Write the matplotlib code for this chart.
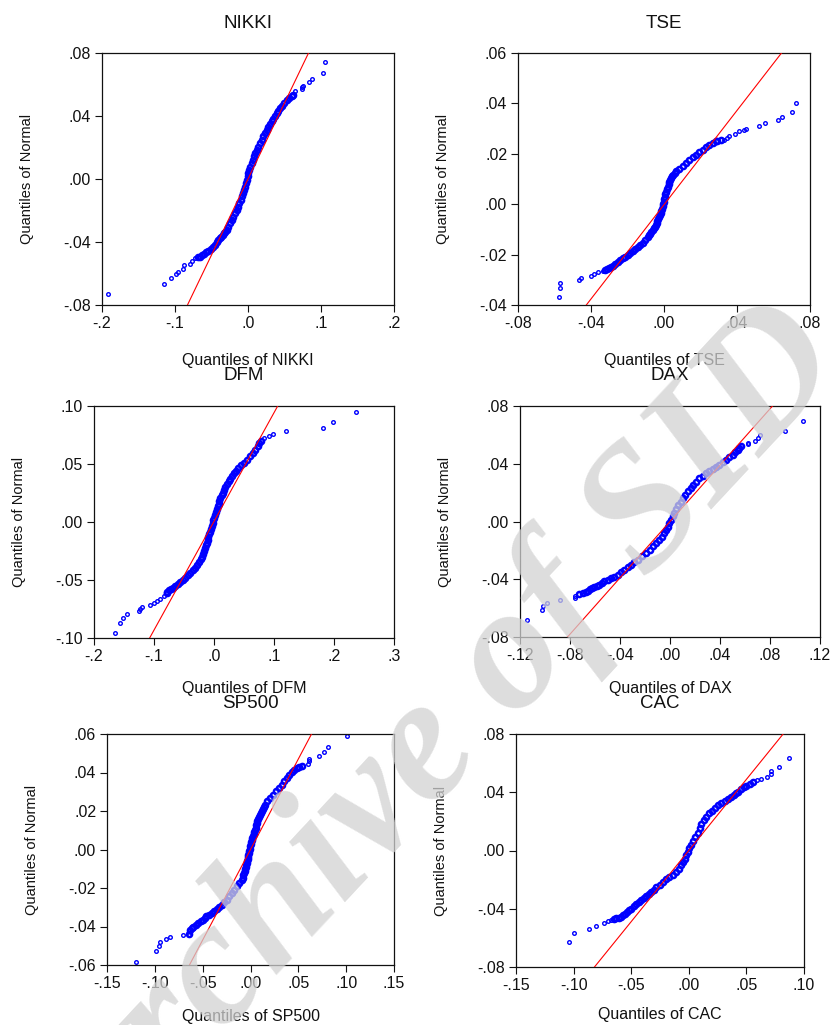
import matplotlib
matplotlib.use("Agg")
import matplotlib.pyplot as plt

plt.rcParams["font.family"] = ["Liberation Sans", "DejaVu Sans"]

NIKKI_POINTS = [
    (-0.192, -0.0732), (-0.1157, -0.0664), (-0.106, -0.063), (-0.0989, -0.0605), (-0.0961, -0.0588),
    (-0.0884, -0.0573), (-0.088, -0.0548), (-0.0788, -0.0537), (-0.077, -0.052), (-0.0724, -0.0503),
    (-0.069, -0.0498), (-0.0656, -0.0493), (-0.0628, -0.0485), (-0.0601, -0.0476), (-0.0572, -0.0466),
    (-0.0542, -0.0455), (-0.0508, -0.0442), (-0.0474, -0.0429), (-0.0452, -0.0416), (-0.043, -0.0402),
    (-0.0405, -0.0387), (-0.0385, -0.0376), (-0.0366, -0.0366), (-0.0346, -0.0355), (-0.0328, -0.0344),
    (-0.031, -0.0334), (-0.0292, -0.0323), (-0.027, -0.0302), (-0.0246, -0.0281), (-0.0223, -0.026),
    (-0.02, -0.0239), (-0.0178, -0.0217), (-0.0155, -0.0196), (-0.0137, -0.0175), (-0.0118, -0.0153),
    (-0.01, -0.0132), (-0.0085, -0.0111), (-0.007, -0.009), (-0.0055, -0.0069), (-0.0043, -0.0048),
    (-0.003, -0.0026), (-0.0018, -0.0005), (-0.0006, 0.0016), (0.0006, 0.0037), (0.0018, 0.0058),
    (0.0033, 0.0079), (0.0049, 0.0101), (0.0064, 0.0122), (0.0082, 0.0143), (0.01, 0.0164),
    (0.0118, 0.0185), (0.0141, 0.0206), (0.0164, 0.0228), (0.0187, 0.0249), (0.021, 0.027),
    (0.0232, 0.0292), (0.0255, 0.0313), (0.0278, 0.0331), (0.03, 0.0348), (0.0323, 0.0366),
    (0.0346, 0.0384), (0.0369, 0.0401), (0.0392, 0.0419), (0.0415, 0.0434), (0.0437, 0.045),
    (0.046, 0.0465), (0.0494, 0.0482), (0.0528, 0.0499), (0.0563, 0.0512), (0.0597, 0.0525),
    (0.0615, 0.0534), (0.0642, 0.0556), (0.0733, 0.0571), (0.074, 0.0582), (0.0756, 0.0592),
    (0.0838, 0.0614), (0.0875, 0.0637), (0.103, 0.0671), (0.1057, 0.0741),
]

TSE_POINTS = [
    (-0.0576, -0.0368), (-0.0569, -0.0334), (-0.0569, -0.0314), (-0.0468, -0.0302), (-0.0456, -0.0291),
    (-0.0401, -0.0285), (-0.0381, -0.0276), (-0.0363, -0.0268), (-0.0335, -0.0264),
    (-0.0324, -0.026), (-0.0313, -0.0256), (-0.0302, -0.0252), (-0.0291, -0.0248), (-0.028, -0.0244),
    (-0.0266, -0.0237), (-0.0253, -0.023), (-0.024, -0.0223), (-0.0226, -0.0215), (-0.0212, -0.0208),
    (-0.0198, -0.0201), (-0.0185, -0.0193), (-0.0171, -0.0184), (-0.0158, -0.0176), (-0.0144, -0.0168),
    (-0.0131, -0.016), (-0.0117, -0.0152), (-0.0103, -0.0142), (-0.0089, -0.0131), (-0.0083, -0.0124),
    (-0.0076, -0.0117), (-0.0069, -0.011), (-0.0062, -0.0102), (-0.0057, -0.0095), (-0.0051, -0.0089),
    (-0.0046, -0.0082), (-0.004, -0.0075), (-0.0036, -0.0067), (-0.0031, -0.0059), (-0.0027, -0.0051),
    (-0.0022, -0.0042), (-0.0019, -0.0034), (-0.0015, -0.0026), (-0.0011, -0.0018), (-0.0007, -0.0009),
    (-0.0005, 0.0), (-0.0002, 0.001), (0.0001, 0.002), (0.0004, 0.003), (0.0008, 0.004),
    (0.0012, 0.005), (0.0016, 0.006), (0.002, 0.007), (0.0025, 0.0079), (0.0029, 0.0087),
    (0.0034, 0.0095), (0.0038, 0.0103), (0.0045, 0.011), (0.0052, 0.0117), (0.0059, 0.0124),
    (0.0066, 0.013), (0.0084, 0.0141), (0.0102, 0.0152), (0.012, 0.0164), (0.0139, 0.0176),
    (0.0157, 0.0186), (0.0175, 0.0196), (0.0193, 0.0206), (0.0211, 0.0216), (0.023, 0.0226),
    (0.0248, 0.0236), (0.0266, 0.0243), (0.0284, 0.0249),
    (0.029, 0.0252), (0.031, 0.0253), (0.033, 0.0256), (0.0345, 0.0262), (0.0357, 0.0269),
    (0.039, 0.0279), (0.0412, 0.0289), (0.044, 0.0295), (0.0448, 0.0298), (0.0521, 0.0309),
    (0.0554, 0.0322), (0.0627, 0.0335), (0.0649, 0.0346), (0.07, 0.0364), (0.0725, 0.0401),
]

DFM_POINTS = [
    (-0.1655, -0.0957), (-0.156, -0.0868), (-0.151, -0.0824), (-0.1449, -0.0793), (-0.1255, -0.077),
    (-0.1232, -0.075), (-0.1199, -0.0732), (-0.1071, -0.0718), (-0.0999, -0.0698), (-0.0954, -0.0681),
    (-0.0899, -0.066), (-0.083, -0.064),
    (-0.079, -0.0615), (-0.0776, -0.0603), (-0.075, -0.059), (-0.0721, -0.0577), (-0.0685, -0.0566),
    (-0.0648, -0.0554), (-0.0607, -0.0536), (-0.0565, -0.0517), (-0.0524, -0.0498), (-0.0482, -0.0479),
    (-0.044, -0.0459), (-0.0398, -0.0439), (-0.0357, -0.0416), (-0.0315, -0.0393), (-0.028, -0.037),
    (-0.0245, -0.0346), (-0.0222, -0.0322), (-0.0198, -0.0298), (-0.0178, -0.0274), (-0.016, -0.025),
    (-0.0143, -0.0226), (-0.013, -0.0202), (-0.0117, -0.0178), (-0.0104, -0.0154), (-0.0092, -0.013),
    (-0.008, -0.0106), (-0.0067, -0.0082), (-0.0053, -0.0058), (-0.0039, -0.0034), (-0.0025, -0.001),
    (-0.0011, 0.0014), (0.0003, 0.0038), (0.0017, 0.0062), (0.0031, 0.0086), (0.0045, 0.011),
    (0.006, 0.0134), (0.0075, 0.0158), (0.009, 0.0182), (0.0107, 0.0206), (0.0125, 0.023),
    (0.0145, 0.0254), (0.0166, 0.0278), (0.019, 0.0302), (0.0215, 0.0326), (0.0242, 0.035),
    (0.027, 0.0373), (0.0302, 0.0396), (0.0335, 0.0419), (0.037, 0.0442), (0.0407, 0.0465),
    (0.0447, 0.0488), (0.0492, 0.051), (0.0547, 0.0535), (0.0597, 0.0565), (0.0647, 0.0597),
    (0.0686, 0.0625), (0.0725, 0.0652), (0.0756, 0.0677), (0.0786, 0.0701),
    (0.0836, 0.0727), (0.0909, 0.0738), (0.0981, 0.0761), (0.1204, 0.0781), (0.181, 0.0813),
    (0.1977, 0.0859), (0.2372, 0.0948),
]

DAX_POINTS = [
    (-0.1144, -0.0682), (-0.1024, -0.0616), (-0.1016, -0.0588), (-0.0984, -0.0563), (-0.088, -0.0546),
    (-0.076, -0.0533), (-0.0757, -0.0519),
    (-0.0725, -0.0505), (-0.0698, -0.0495), (-0.0672, -0.0486), (-0.0656, -0.0478), (-0.064, -0.047),
    (-0.0622, -0.0462), (-0.0605, -0.0454), (-0.0585, -0.0446), (-0.0565, -0.0438), (-0.0545, -0.0426),
    (-0.0525, -0.0415), (-0.0498, -0.0404), (-0.0472, -0.0392), (-0.0446, -0.0381), (-0.0419, -0.0369),
    (-0.0392, -0.0352), (-0.0365, -0.0334), (-0.0339, -0.0317), (-0.0312, -0.03), (-0.0286, -0.0283),
    (-0.0259, -0.0265), (-0.0226, -0.0242), (-0.0192, -0.0219), (-0.0163, -0.0196), (-0.0133, -0.0173),
    (-0.0109, -0.015), (-0.0085, -0.0127), (-0.0065, -0.0104), (-0.0045, -0.0081), (-0.0032, -0.0058),
    (-0.0019, -0.0035), (-0.0006, -0.0012), (0.0008, 0.0012), (0.0021, 0.0037), (0.0035, 0.0062),
    (0.0051, 0.0088), (0.0067, 0.0115), (0.0084, 0.0138), (0.0101, 0.0161), (0.0121, 0.0185),
    (0.0141, 0.0208), (0.0164, 0.0231), (0.0187, 0.0254), (0.0211, 0.0277), (0.0235, 0.03),
    (0.0262, 0.0317), (0.0288, 0.0334), (0.0315, 0.0348), (0.0341, 0.0362), (0.0368, 0.0377),
    (0.0395, 0.0392), (0.0422, 0.041), (0.0448, 0.0427), (0.0475, 0.0444), (0.0501, 0.0461),
    (0.0521, 0.0479), (0.0541, 0.0496), (0.0555, 0.051), (0.0568, 0.0523),
    (0.0621, 0.0537), (0.0625, 0.0545), (0.0683, 0.0558), (0.0701, 0.0579), (0.0723, 0.0597),
    (0.0923, 0.0627), (0.1061, 0.0694),
]

SP500_POINTS = [
    (-0.1194, -0.0584), (-0.0986, -0.0527), (-0.0954, -0.0503), (-0.0944, -0.0482), (-0.0885, -0.0465),
    (-0.0843, -0.0455), (-0.0704, -0.0446), (-0.064, -0.0444),
    (-0.0638, -0.0437), (-0.0631, -0.0416), (-0.0614, -0.0409), (-0.0596, -0.0403), (-0.057, -0.0392),
    (-0.0544, -0.0382), (-0.0518, -0.0374), (-0.0492, -0.0365), (-0.0478, -0.0356), (-0.0464, -0.0347),
    (-0.0435, -0.0339), (-0.0405, -0.033), (-0.0379, -0.032), (-0.0353, -0.0309), (-0.0327, -0.0298),
    (-0.0301, -0.0287), (-0.0275, -0.0274), (-0.0249, -0.0261), (-0.0223, -0.0244), (-0.0196, -0.0226),
    (-0.017, -0.0209), (-0.0144, -0.0191), (-0.0118, -0.0174), (-0.0092, -0.0157), (-0.0083, -0.0146),
    (-0.0075, -0.0135), (-0.0066, -0.0124), (-0.0057, -0.0113), (-0.0053, -0.0102), (-0.0049, -0.0092),
    (-0.0044, -0.0081), (-0.004, -0.007), (-0.0035, -0.006), (-0.0031, -0.0049), (-0.0026, -0.0038),
    (-0.0022, -0.0027), (-0.0018, -0.0016), (-0.0014, -0.0006), (-0.0009, 0.0005), (-0.0005, 0.0016),
    (0.0001, 0.0027), (0.0007, 0.0038), (0.0013, 0.0049), (0.0019, 0.006), (0.0026, 0.0071),
    (0.0033, 0.0082), (0.004, 0.0093), (0.0047, 0.0103), (0.0053, 0.0114), (0.0059, 0.0125),
    (0.0065, 0.0136), (0.0071, 0.0146), (0.008, 0.0157), (0.0089, 0.0168), (0.0097, 0.0179),
    (0.0106, 0.019), (0.0118, 0.0201), (0.0129, 0.0212), (0.014, 0.0222), (0.0151, 0.0233),
    (0.0177, 0.0251), (0.0203, 0.0268), (0.0235, 0.0285), (0.0266, 0.0302), (0.0296, 0.032),
    (0.0325, 0.0337), (0.0355, 0.0354), (0.0384, 0.0371), (0.0407, 0.0386), (0.0429, 0.0401),
    (0.0455, 0.0412), (0.0481, 0.0423), (0.0508, 0.043), (0.0534, 0.0436),
    (0.0603, 0.0446), (0.061, 0.0458), (0.0614, 0.0472), (0.0711, 0.0487), (0.0773, 0.0506),
    (0.0812, 0.0532), (0.1013, 0.0588),
]

CAC_POINTS = [
    (-0.1039, -0.0628), (-0.0993, -0.0568), (-0.0868, -0.0538), (-0.0802, -0.0517), (-0.0738, -0.0501),
    (-0.07, -0.0487), (-0.0674, -0.0476),
    (-0.0651, -0.0469), (-0.063, -0.0466), (-0.0608, -0.0462), (-0.059, -0.0454), (-0.0573, -0.0446),
    (-0.0555, -0.0436), (-0.0538, -0.0425), (-0.052, -0.0412), (-0.0501, -0.04), (-0.0479, -0.0383),
    (-0.0457, -0.0366), (-0.0436, -0.0355), (-0.0414, -0.0343), (-0.0392, -0.0329), (-0.037, -0.0315),
    (-0.0349, -0.03), (-0.0327, -0.0285), (-0.0305, -0.0268), (-0.0283, -0.0251), (-0.0254, -0.0234),
    (-0.0225, -0.0216), (-0.0197, -0.0199), (-0.0168, -0.0182), (-0.0139, -0.0165), (-0.011, -0.0147),
    (-0.0088, -0.0124), (-0.0066, -0.0101), (-0.0052, -0.0078), (-0.0037, -0.0055), (-0.0023, -0.0032),
    (-0.0009, -0.0009), (0.0005, 0.0014), (0.002, 0.0037), (0.0039, 0.0066), (0.0058, 0.0094),
    (0.0076, 0.0123), (0.0093, 0.0152), (0.011, 0.0181), (0.0128, 0.0209), (0.0151, 0.0232),
    (0.0174, 0.0255), (0.0199, 0.0273), (0.0224, 0.029), (0.0253, 0.031), (0.0282, 0.0329),
    (0.0311, 0.0341), (0.034, 0.0352), (0.0365, 0.0367), (0.0389, 0.0382), (0.0408, 0.0394),
    (0.0426, 0.0405), (0.0455, 0.0421), (0.0477, 0.0433), (0.0499, 0.0444), (0.0528, 0.0456),
    (0.0557, 0.0467),
    (0.0594, 0.0483), (0.0629, 0.0494), (0.0678, 0.0508), (0.0713, 0.0522), (0.0713, 0.0547),
    (0.0786, 0.0572), (0.0873, 0.0632),
]

# reference lines: (intercept, slope)
NIKKI_LINE = (0.0, 0.965)
TSE_LINE = (-0.0002, 0.935)
DFM_LINE = (0.0005, 0.937)
DAX_LINE = (0.0, 0.9756)
SP500_LINE = (0.0, 0.9404)
CAC_LINE = (0.0, 0.977)

NIKKI_XTICKS = [-0.2, -0.1, 0.0, 0.1, 0.2]
NIKKI_YTICKS = [-0.08, -0.04, 0.0, 0.04, 0.08]
TSE_XTICKS = [-0.08, -0.04, 0.0, 0.04, 0.08]
TSE_YTICKS = [-0.04, -0.02, 0.0, 0.02, 0.04, 0.06]
DFM_XTICKS = [-0.2, -0.1, 0.0, 0.1, 0.2, 0.3]
DFM_YTICKS = [-0.10, -0.05, 0.0, 0.05, 0.10]
DAX_XTICKS = [-0.12, -0.08, -0.04, 0.0, 0.04, 0.08, 0.12]
DAX_YTICKS = [-0.08, -0.04, 0.0, 0.04, 0.08]
SP500_XTICKS = [-0.15, -0.10, -0.05, 0.0, 0.05, 0.10, 0.15]
SP500_YTICKS = [-0.06, -0.04, -0.02, 0.0, 0.02, 0.04, 0.06]
CAC_XTICKS = [-0.15, -0.10, -0.05, 0.0, 0.05, 0.10]
CAC_YTICKS = [-0.08, -0.04, 0.0, 0.04, 0.08]

PANELS = [
    ("NIKKI", NIKKI_POINTS, NIKKI_LINE, NIKKI_XTICKS, 1, NIKKI_YTICKS, 2),
    ("TSE", TSE_POINTS, TSE_LINE, TSE_XTICKS, 2, TSE_YTICKS, 2),
    ("DFM", DFM_POINTS, DFM_LINE, DFM_XTICKS, 1, DFM_YTICKS, 2),
    ("DAX", DAX_POINTS, DAX_LINE, DAX_XTICKS, 2, DAX_YTICKS, 2),
    ("SP500", SP500_POINTS, SP500_LINE, SP500_XTICKS, 2, SP500_YTICKS, 2),
    ("CAC", CAC_POINTS, CAC_LINE, CAC_XTICKS, 2, CAC_YTICKS, 2),
]

# layout: axes box in pixels (left, top, right, bottom), x-label drop,
# and how many sparse points sit at each end (the rest form the crowded band)
W, H = 832, 1025
BOXES = [
    (102, 53, 394, 305, 55, 10, 8),
    (518, 53, 810, 305, 55, 9, 13),
    (94, 406, 394, 638, 50, 12, 7),
    (520, 406, 820, 637, 51, 7, 7),
    (107, 734, 394, 965, 51, 8, 7),
    (516, 734, 804, 967, 48, 7, 7),
]


def eviews_label(v, decimals):
    s = f"{v:.{decimals}f}"
    return s.replace("0.", ".", 1)


def px_to_pt(p):
    return p * 72 / 100


fig = plt.figure(figsize=(W / 100, H / 100), dpi=100)

for (name, pts, line, xt, xd, yt, yd), (l, t, r, b, drop, n_lo, n_hi) in zip(PANELS, BOXES):
    ax = fig.add_axes([l / W, 1 - b / H, (r - l) / W, (b - t) / H])
    tails = pts[:n_lo] + pts[len(pts) - n_hi:]
    band = pts[n_lo:len(pts) - n_hi]
    ax.plot([p[0] for p in tails], [p[1] for p in tails], ls="none", marker="o", ms=2.6,
            mfc="none", mec="#0000ff", mew=1.0, zorder=2)
    ax.plot([p[0] for p in band], [p[1] for p in band], ls="none", marker="o", ms=3.7,
            mfc="none", mec="#0000ff", mew=1.8, zorder=2)
    x_ends = [xt[0], xt[-1]]
    ax.plot(x_ends, [line[0] + line[1] * v for v in x_ends], color="#ff0000", lw=0.8, zorder=3)
    ax.set_xlim(xt[0], xt[-1])
    ax.set_ylim(yt[0], yt[-1])
    ax.set_xticks(xt, [eviews_label(v, xd) for v in xt])
    ax.set_yticks(yt, [eviews_label(v, yd) for v in yt])
    ax.tick_params(direction="out", length=4.8, width=0.8, labelsize=11.5, pad=3,
                   colors="#111111", top=False, right=False)
    for sp in ax.spines.values():
        sp.set_linewidth(0.9)
        sp.set_color("#111111")
    ax.annotate(name, xy=(0.5, 1), xycoords="axes fraction", xytext=(0, px_to_pt(30)),
                textcoords="offset points", ha="center", va="center", fontsize=13.5, color="#111111")
    ax.annotate(f"Quantiles of {name}", xy=(0.5, 0), xycoords="axes fraction",
                xytext=(0, -px_to_pt(drop)), textcoords="offset points", ha="center", va="center",
                fontsize=11.5, color="#111111")
    ax.annotate("Quantiles of Normal", xy=(0, 0.5), xycoords="axes fraction",
                xytext=(-px_to_pt(75), 0), textcoords="offset points", ha="center", va="center",
                rotation=90, fontsize=10.5, color="#111111")

# watermark
fig.text(0.531, 0.274, "Archive of SID", fontsize=128, family="Liberation Serif", weight="bold",
         style="italic", color="#d2d2d2", alpha=0.75, rotation=47, rotation_mode="anchor",
         ha="center", va="center", zorder=10)

fig.savefig("out.png", dpi=100)
